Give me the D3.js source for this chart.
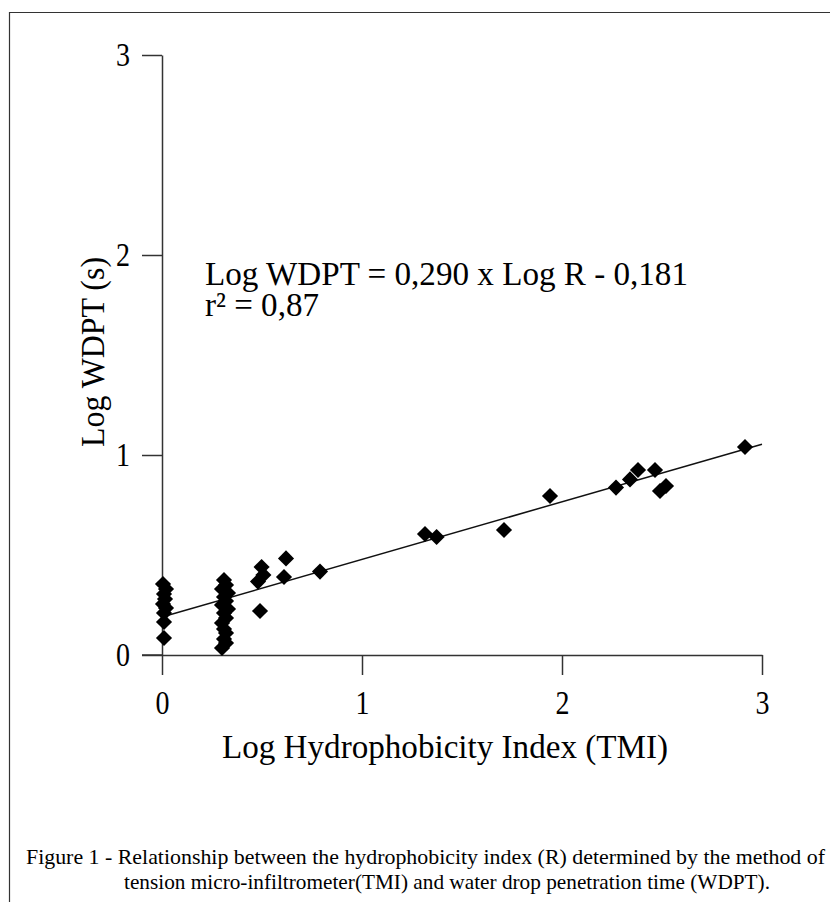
<!DOCTYPE html>
<html>
<head>
<meta charset="utf-8">
<script src="https://cdn.jsdelivr.net/npm/d3@7"></script>
<style>
  html, body { margin: 0; padding: 0; background: #fff; }
  svg { display: block; }
  text { font-family: "Liberation Serif", "Times New Roman", serif; fill: #000; }
</style>
</head>
<body>
<svg id="chart" width="830" height="902"></svg>
<script>
// ---- data ----
const logR = [
  0.005, 0.02, 0.01, 0.015, 0.005, 0.02, 0.01, 0.01, 0.01,
  0.31, 0.32, 0.30, 0.33, 0.31, 0.32, 0.30, 0.33, 0.31, 0.32, 0.30, 0.31, 0.32, 0.31, 0.32, 0.30,
  0.498, 0.507, 0.48, 0.49, 0.61, 0.62, 0.79,
  1.315, 1.373, 1.71, 1.94, 2.27, 2.34, 2.38, 2.465, 2.49, 2.52, 2.915
];
const logWDPT = [
  0.355, 0.33, 0.305, 0.28, 0.255, 0.235, 0.21, 0.165, 0.085,
  0.375, 0.35, 0.33, 0.31, 0.29, 0.27, 0.25, 0.23, 0.21, 0.185, 0.16, 0.13, 0.11, 0.08, 0.06, 0.035,
  0.44, 0.40, 0.367, 0.22, 0.39, 0.483, 0.417,
  0.605, 0.59, 0.625, 0.795, 0.837, 0.878, 0.925, 0.925, 0.82, 0.845, 1.04
];
const fitSlope = 0.288;
const fitIntercept = 0.19;
const xTicks = [0, 1, 2, 3];
const yTicks = [0, 1, 2, 3];
const xLabel = "Log Hydrophobicity Index (TMI)";
const yLabel = "Log WDPT (s)";
const equation = "Log WDPT = 0,290 x Log R - 0,181";
const rSquared = "r² = 0,87";
const caption1 = "Figure 1 - Relationship between the hydrophobicity index (R) determined by the method of";
const caption2 = "tension micro-infiltrometer(TMI) and water drop penetration time (WDPT).";

// ---- drawing ----
const svg = d3.select("#chart");
const x = d3.scaleLinear().domain([0, 3]).range([162, 762]);
const y = d3.scaleLinear().domain([0, 3]).range([655, 55]);

// frame
svg.append("path")
  .attr("d", "M9.5,902 V12.5 H830")
  .attr("fill", "none").attr("stroke", "#333").attr("stroke-width", 1.2);

const axisColor = "#333";
// x axis
const gx = svg.append("g").attr("transform", `translate(0,${y(0)})`)
  .call(d3.axisBottom(x).tickValues(xTicks).tickSize(20).tickSizeOuter(0).tickPadding(16).tickFormat(d3.format("d")));
// y axis
const gy = svg.append("g").attr("transform", `translate(${x(0)},0)`)
  .call(d3.axisLeft(y).tickValues(yTicks).tickSize(20).tickSizeOuter(0).tickPadding(12).tickFormat(d3.format("d")));

[gx, gy].forEach(g => {
  g.selectAll("path.domain").attr("stroke", axisColor).attr("stroke-width", 1.5);
  g.selectAll(".tick line").attr("stroke", axisColor).attr("stroke-width", 1.5);
  g.selectAll(".tick text").attr("font-family", "Liberation Serif, Times New Roman, serif")
    .attr("font-size", 33).attr("fill", "#000")
    .attr("textLength", 14).attr("lengthAdjust", "spacingAndGlyphs");
});
// x-axis line extends left to the y tick end
svg.append("line").attr("x1", x(0) - 20).attr("x2", x(0)).attr("y1", y(0)).attr("y2", y(0))
  .attr("stroke", axisColor).attr("stroke-width", 1.5);

// fit line
svg.append("line")
  .attr("x1", x(0)).attr("y1", y(fitIntercept))
  .attr("x2", x(3)).attr("y2", y(fitIntercept + fitSlope * 3))
  .attr("stroke", "#111").attr("stroke-width", 1.5);

// points (diamonds)
const diamond = d3.symbol().type(d3.symbolSquare).size(130);
svg.append("g").selectAll("path")
  .data(logR.map((v, i) => [v, logWDPT[i]]))
  .join("path")
  .attr("d", diamond)
  .attr("transform", d => `translate(${x(d[0])},${y(d[1])}) rotate(45)`)
  .attr("fill", "#000");

// axis titles
svg.append("text")
  .attr("x", 445).attr("y", 758).attr("text-anchor", "middle")
  .attr("font-size", 33).attr("textLength", 446).attr("lengthAdjust", "spacingAndGlyphs")
  .text(xLabel);
svg.append("text")
  .attr("transform", "translate(104,352) rotate(-90)").attr("text-anchor", "middle")
  .attr("font-size", 33).attr("textLength", 190).attr("lengthAdjust", "spacingAndGlyphs")
  .text(yLabel);

// equation
svg.append("text").attr("x", 205).attr("y", 285)
  .attr("font-size", 33).attr("textLength", 483).attr("lengthAdjust", "spacingAndGlyphs")
  .text(equation);
svg.append("text").attr("x", 205).attr("y", 316)
  .attr("font-size", 33).attr("textLength", 114).attr("lengthAdjust", "spacingAndGlyphs")
  .text(rSquared);

// caption
svg.append("text").attr("x", 26).attr("y", 864)
  .attr("font-size", 21).attr("textLength", 799).attr("lengthAdjust", "spacingAndGlyphs")
  .text(caption1);
svg.append("text").attr("x", 124).attr("y", 889)
  .attr("font-size", 21).attr("textLength", 646).attr("lengthAdjust", "spacingAndGlyphs")
  .text(caption2);
</script>
</body>
</html>
